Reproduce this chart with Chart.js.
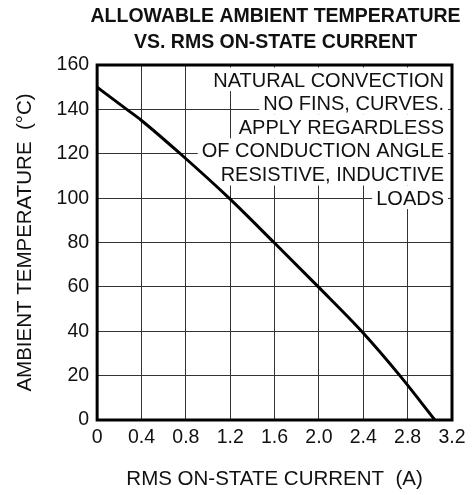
<!DOCTYPE html>
<html lang="en">
<head>
    <meta charset="UTF-8">
    <title>Allowable ambient temperature vs. RMS on-state current</title>
    <script src="https://cdn.jsdelivr.net/npm/chart.js"></script>
    <style>
        html, body { margin: 0; padding: 0; background: #fff; }
        #wrap { width: 472px; height: 495px; }
    </style>
</head>
<body>
    <div id="wrap"><canvas id="tempChart" width="472" height="495"></canvas></div>
    <script>
        // Curve
        const currents = [0, 0.267, 0.4, 0.75, 1.19, 1.595, 1.995, 2.385, 2.73, 3.046];
        const temps = [150, 140, 135, 120, 100, 80, 60, 40, 20, 0];

        const xTicks = [0, 0.4, 0.8, 1.2, 1.6, 2.0, 2.4, 2.8, 3.2];
        const xTickLabels = ['0', '0.4', '0.8', '1.2', '1.6', '2.0', '2.4', '2.8', '3.2'];
        const yTicks = [0, 20, 40, 60, 80, 100, 120, 140, 160];

        const titleLines = ['ALLOWABLE AMBIENT TEMPERATURE', 'VS. RMS ON-STATE CURRENT'];
        const noteLines = [
            'NATURAL CONVECTION',
            'NO FINS, CURVES.',
            'APPLY REGARDLESS',
            'OF CONDUCTION ANGLE',
            'RESISTIVE, INDUCTIVE',
            'LOADS'
        ];

        const FONT = "'Liberation Sans', Arial, Helvetica, sans-serif";
        const INK = '#111';

        // title over the plot, note block with white background, heavy frame
        const framePlugin = {
            id: 'frame',
            beforeDatasetsDraw(chart) {
                const { ctx, chartArea: a } = chart;
                ctx.save();
                ctx.font = '20px ' + FONT;
                ctx.textAlign = 'right';
                noteLines.forEach((txt, i) => {
                    const y = a.top + 14.3 + i * 23.6;
                    const w = ctx.measureText(txt).width;
                    const xr = a.right - 8;
                    ctx.fillStyle = '#fff';
                    ctx.fillRect(xr - w - 4, y - 11.8, w + 8, 23.6);
                    ctx.fillStyle = INK;
                    ctx.fillText(txt, xr, y + 7.2);
                });
                ctx.restore();
            },
            afterDatasetsDraw(chart) {
                const { ctx, chartArea: a } = chart;
                ctx.save();
                ctx.strokeStyle = '#000';
                ctx.lineWidth = 3;
                ctx.strokeRect(a.left, a.top, a.right - a.left, a.bottom - a.top);

                ctx.fillStyle = INK;
                ctx.font = 'bold 19.5px ' + FONT;
                ctx.textAlign = 'center';
                const cx = (a.left + a.right) / 2 + 1;
                titleLines.forEach((txt, i) => ctx.fillText(txt, cx, 21.5 + i * 26.5));
                ctx.restore();
            }
        };

        new Chart(document.getElementById('tempChart'), {
            type: 'line',
            data: {
                datasets: [{
                    data: currents.map((c, i) => ({ x: c, y: temps[i] })),
                    borderColor: '#000',
                    borderWidth: 3,
                    pointRadius: 0,
                    cubicInterpolationMode: 'monotone',
                    fill: false
                }]
            },
            options: {
                responsive: false,
                animation: false,
                devicePixelRatio: 1,
                layout: { padding: { left: 13, right: 20, top: 65, bottom: 3 } },
                plugins: {
                    legend: { display: false },
                    tooltip: { enabled: false },
                    title: { display: false }
                },
                scales: {
                    x: {
                        type: 'linear',
                        min: 0,
                        max: 3.2,
                        afterBuildTicks: s => { s.ticks = xTicks.map(v => ({ value: v })); },
                        ticks: {
                            color: INK,
                            padding: 6,
                            maxRotation: 0,
                            autoSkip: false,
                            font: { family: FONT, size: 19.5 },
                            callback: v => xTickLabels[xTicks.indexOf(v)]
                        },
                        grid: { color: '#333', lineWidth: 1, drawTicks: false },
                        border: { display: false },
                        title: {
                            display: true,
                            text: 'RMS ON-STATE CURRENT  (A)',
                            color: INK,
                            font: { family: FONT, size: 20.5 },
                            padding: { top: 12, bottom: 0 }
                        }
                    },
                    y: {
                        min: 0,
                        max: 160,
                        afterBuildTicks: s => { s.ticks = yTicks.map(v => ({ value: v })); },
                        ticks: {
                            color: INK,
                            padding: 8,
                            autoSkip: false,
                            font: { family: FONT, size: 19.5 }
                        },
                        grid: { color: '#333', lineWidth: 1, drawTicks: false },
                        border: { display: false },
                        title: {
                            display: true,
                            text: 'AMBIENT TEMPERATURE  (°C)',
                            color: INK,
                            font: { family: FONT, size: 20.5 },
                            padding: { top: 0, bottom: 11 }
                        }
                    }
                }
            },
            plugins: [framePlugin]
        });
    </script>
</body>
</html>
